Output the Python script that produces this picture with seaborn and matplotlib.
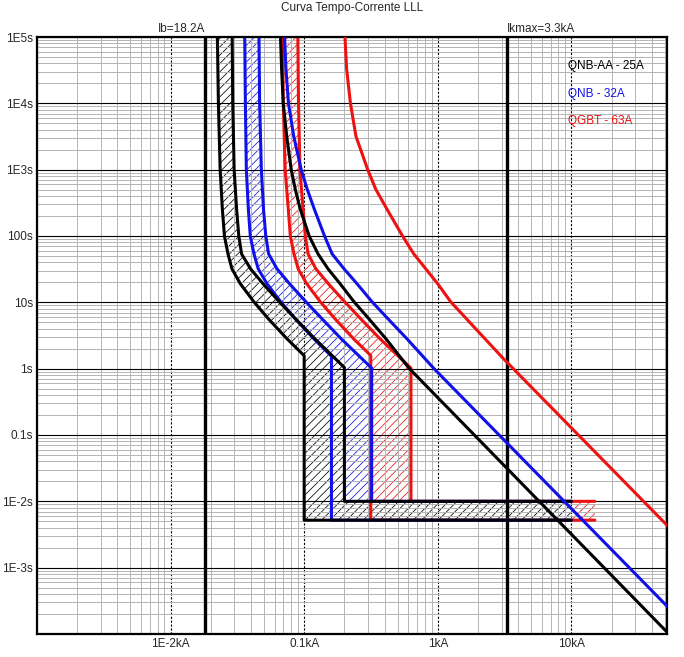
import numpy as np
import pandas as pd
import matplotlib
matplotlib.use('Agg')
import matplotlib.pyplot as plt
import matplotlib.transforms as mtransforms
from matplotlib.ticker import LogLocator, NullFormatter
import seaborn as sns

# Correntes em A, tempos em s
t_faixa = [1e5, 1e4, 1e3, 255, 100, 53.6, 31.9, 19.0, 10.2, 5.65, 2.83]

# QNB-AA - 25A (preto)
aa_min_i = [22.4, 22.8, 23.5, 24.4, 25.3, 26.9, 28.8, 33.3, 42.0, 53.9, 74.3, 100, 100, 10000]
aa_min_t = t_faixa + [1.57, 0.0052, 0.0052]
aa_max_i = [28.9, 29.2, 29.9, 31.2, 32.4, 34.0, 39.7, 49.3, 65.1, 86.0, 120, 200, 200, 10000]
aa_max_t = t_faixa + [1.04, 0.01, 0.01]

# QNB - 32A (azul)
nb_min_i = [35.9, 36.3, 36.9, 38.2, 39.5, 42.1, 45.3, 52.8, 66.7, 85.8, 118, 160, 160, 10000]
nb_min_t = t_faixa + [1.54, 0.0052, 0.0052]
nb_max_i = [45.9, 46.4, 47.8, 49.6, 51.6, 54.2, 62.7, 77.8, 103, 136, 189, 320, 320, 10000]
nb_max_t = t_faixa + [1.02, 0.01, 0.01]

# QGBT - 63A (vermelho)
gb_min_i = [69.1, 69.7, 72.1, 76.0, 78.8, 83.9, 90.2, 104.6, 132, 170, 234, 315, 315, 15000]
gb_min_t = t_faixa + [1.58, 0.0052, 0.0052]
gb_max_i = [89.7, 90.7, 92.9, 98.1, 102, 107, 122.5, 152, 201, 265, 369, 630, 630, 15000]
gb_max_t = t_faixa + [1.02, 0.01, 0.01]

# curvas dos cabos
t_cabo = [1e5, 3.25e4, 1e4, 3.2e3, 1e3, 509, 255, 100, 53.6, 31.9, 19.0, 10.2, 5.65, 2.83]
cabo_aa_i = [66.5, 67.8, 69.7, 74.0, 80.0, 85.7, 93.4, 109, 127, 151, 186, 236, 305, 409, 608,
             52000, 60000]
cabo_aa_t = t_cabo + [1.02, 1.07e-4, 8.0e-5]
cabo_nb_i = [71.3, 73.1, 76.3, 83.5, 95.0, 105.3, 119, 142, 162, 199, 249, 322, 424, 587, 938,
             52000, 60000]
cabo_nb_t = t_cabo + [1.0, 2.63e-4, 1.96e-4]
cabo_gb_i = [202, 208, 222, 244, 299, 343, 416, 545, 662, 814, 1000, 1250, 1921, 3108,
             52000, 60000]
cabo_gb_t = [1e5, 3.25e4, 1e4, 3.2e3, 1e3, 509, 255, 100, 53.6, 31.9, 19.0, 10.2, 4.0, 1.41,
             4.36e-3, 3.27e-3]

ib = 18.2        # A
ikmax = 3300     # A

x_ticks = [1e-3, 1e-2, 0.1, 1, 10]
x_labels = ['', '1E-2kA', '0.1kA', '1kA', '10kA']
y_ticks = [1e-4, 1e-3, 1e-2, 0.1, 1, 10, 100, 1e3, 1e4, 1e5]
y_labels = ['', '1E-3s', '1E-2s', '0.1s', '1s', '10s', '100s', '1E3s', '1E4s', '1E5s']

AZUL = '#1010e8'
VERMELHO = '#ee1111'
legendas = [('QNB-AA - 25A', 'black'), ('QNB - 32A', AZUL), ('QGBT - 63A', VERMELHO)]

sns.set_style('white')
plt.rcParams['font.family'] = ['Liberation Sans', 'DejaVu Sans']
plt.rcParams['hatch.linewidth'] = 0.55


def curva(ax, i, t, cor, z=2, lw=2.2):
    df = pd.DataFrame({'I': np.array(i) / 1000.0, 't': t})
    sns.lineplot(data=df, x='I', y='t', sort=False, estimator=None,
                 color=cor, lw=lw, ax=ax, zorder=z, legend=False)


def faixa(ax, i_min, t_min, i_max, t_max, cor, fundo, z):
    x = np.r_[i_min, i_max[::-1]] / 1000.0
    y = np.r_[t_min, t_max[::-1]]
    ax.fill(x, y, facecolor=fundo, edgecolor=cor, hatch='////', lw=0, zorder=z)


fig = plt.figure(figsize=(6.84, 6.57), dpi=100)
ax = fig.add_axes([37 / 684, 1 - 634 / 657, 630 / 684, 597 / 657])
ax.set_xscale('log')
ax.set_yscale('log')
ax.set_xlim(1e-3, 52)
ax.set_ylim(1e-4, 1e5)

# faixas hachuradas
faixa(ax, gb_min_i, gb_min_t, gb_max_i, gb_max_t, VERMELHO, 'none', 0.2)
faixa(ax, nb_min_i, nb_min_t, nb_max_i, nb_max_t, AZUL, 'none', 0.3)
faixa(ax, aa_min_i, aa_min_t, aa_max_i, aa_max_t, 'black', 'white', 0.4)

# grade
ax.set_axisbelow(True)
ax.xaxis.set_minor_locator(LogLocator(base=10, subs=np.arange(2, 10), numticks=30))
ax.yaxis.set_minor_locator(LogLocator(base=10, subs=np.arange(2, 10), numticks=30))
ax.xaxis.set_minor_formatter(NullFormatter())
ax.yaxis.set_minor_formatter(NullFormatter())
ax.grid(which='minor', color='#b4b4b4', lw=0.7)
ax.grid(which='major', axis='y', color='black', lw=0.8)
ax.grid(which='major', axis='x', color='black', lw=0.8, ls=(0, (2, 1.5)))

# linhas verticais Ib e Ikmax
ax.axvline(ib / 1000.0, color='black', lw=2.4, zorder=1)
ax.axvline(ikmax / 1000.0, color='black', lw=2.4, zorder=1)
trans = mtransforms.blended_transform_factory(ax.transData, ax.transAxes)
ax.text(ib / 1000.0, 1.003, 'Ib=18.2A', transform=trans, ha='right', va='bottom', fontsize=8.5)
ax.text(ikmax / 1000.0, 1.003, 'Ikmax=3.3kA', transform=trans, ha='left', va='bottom', fontsize=8.5)

# disjuntores
curva(ax, gb_min_i, gb_min_t, VERMELHO)
curva(ax, gb_max_i, gb_max_t, VERMELHO)
curva(ax, nb_min_i, nb_min_t, AZUL)
curva(ax, nb_max_i, nb_max_t, AZUL)
curva(ax, aa_min_i, aa_min_t, 'black')
curva(ax, aa_max_i, aa_max_t, 'black')

# cabos
curva(ax, cabo_gb_i, cabo_gb_t, VERMELHO, z=3)
curva(ax, cabo_nb_i, cabo_nb_t, AZUL, z=3)
curva(ax, cabo_aa_i, cabo_aa_t, 'black', z=3)

ax.set_xticks(x_ticks)
ax.set_xticklabels(x_labels)
ax.set_yticks(y_ticks)
ax.set_yticklabels(y_labels)
ax.set_xlim(1e-3, 52)
ax.set_ylim(1e-4, 1e5)
ax.tick_params(which='both', length=0, labelsize=8.5, pad=3)
ax.set_xlabel('')
ax.set_ylabel('')
for s in ax.spines.values():
    s.set_color('black')
    s.set_linewidth(1.6)

for k, (txt, cor) in enumerate(legendas):
    ax.text(0.843, 0.951 - k * 0.046, txt, color=cor, transform=ax.transAxes,
            ha='left', va='center', fontsize=8.5)

pos = ax.get_position()
fig.text((pos.x0 + pos.x1) / 2, 1 - 8 / 657, 'Curva Tempo-Corrente LLL',
         ha='center', va='center', fontsize=8.5)

fig.savefig('out.png', dpi=100)
